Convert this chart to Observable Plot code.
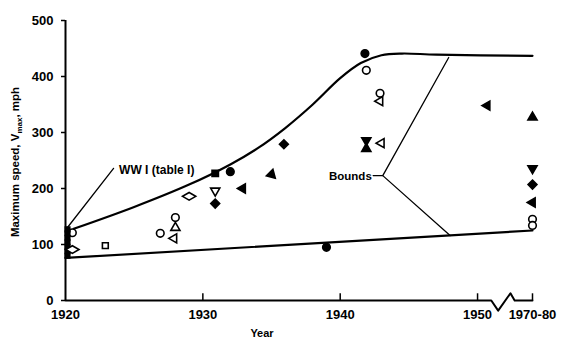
<!DOCTYPE html>
<html><head><meta charset="utf-8">
<script src="https://cdn.jsdelivr.net/npm/d3@7"></script>
<script src="https://cdn.jsdelivr.net/npm/@observablehq/plot@0.6"></script>
<style>body{margin:0;background:#fff} svg{display:block}</style>
</head><body><div id="chart"></div>
<script>
// ---- data ----
const xTickValues = [1920, 1930, 1940, 1950, 1975];
const xTickLabels = ["1920", "1930", "1940", "1950", "1970-80"];
const yTickValues = [0, 100, 200, 300, 400, 500];

// aircraft points: year, max speed (mph), marker code
const pointYears = [
  1920.15, 1920.15, 1920.15, 1920.15, 1920.15, 1920.15, 1920.15,
  1920.5, 1920.5, 1922.9, 1926.9, 1928, 1928, 1927.9, 1929,
  1930.9, 1932, 1930.9, 1930.9, 1932.9, 1935, 1935.9, 1939,
  1941.8, 1941.9, 1942.9, 1942.9, 1941.9, 1941.9, 1943, 1950.7,
  1975, 1975, 1975, 1975, 1975, 1975
];
const pointSpeeds = [
  80, 88, 96, 104, 112, 120, 127,
  121, 91, 98, 120, 148, 130, 111, 186,
  227, 230, 196, 173, 200, 225, 279, 95,
  441, 411, 370, 356, 286, 271, 281, 348,
  327, 236, 207, 175, 145, 134
];
const pointMarkers = [
  "■", "■", "■", "■", "■", "■", "■",
  "○", "◇", "□", "○", "○", "△", "◁", "◇",
  "■", "●", "▽", "◆", "◀", "◥", "◆", "●",
  "●", "○", "○", "◁", "▼", "▲", "◁", "◀",
  "▲", "▼", "◆", "◀", "○", "○"
];

// bounds
const upperYears  = [1920.6, 1925, 1929, 1932, 1934, 1936, 1938, 1940, 1941.5, 1943, 1944.5, 1947, 1975];
const upperSpeeds = [128, 167, 207, 243, 272, 308, 350, 397, 424, 438, 441, 439, 437];
const lowerYears  = [1920, 1975];
const lowerSpeeds = [76, 125];

// annotation leaders
const wwiLeaderYears = [1923.5, 1920.1];
const wwiLeaderSpeeds = [236, 129];
const boundsUpperLeaderYears = [1942.4, 1943.1, 1947.9];
const boundsUpperLeaderSpeeds = [223, 223, 434];
const boundsLowerLeaderYears = [1943.1, 1948.0];
const boundsLowerLeaderSpeeds = [223, 116];

// x-axis with break
const axisYears  = [1920, 1951, 1956.6, 1966.6, 1970, 1975];
const axisSpeeds = [0, 0, -18, 13, 0, 0];

// ---- build ----
// broken time axis: 1920–1951 linear, 1951–1970 compressed, 1970–80 group at the end
const breakTransform = v => v <= 1951 ? v
  : v < 1970 ? 1951 + (v - 1951) * (1.7 / 19)
  : 1952.7 + (v - 1970) * (1.3 / 5);

const zip = (xs, ys) => xs.map((x, i) => ({x, y: ys[i]}));
const points = pointYears.map((x, i) => ({x, y: pointSpeeds[i], m: pointMarkers[i]}));

const markerStyle = {
  "○": {symbol: "circle",   fill: false, rotate: 0,   r: 3.8},
  "●": {symbol: "circle",   fill: true,  rotate: 0,   r: 3.8},
  "□": {symbol: "square",   fill: false, rotate: 0,   r: 3.3},
  "■": {symbol: "square",   fill: true,  rotate: 0,   r: 3.0},
  "◇": {symbol: "diamond",  fill: false, rotate: 90,  r: 4.0},
  "◆": {symbol: "diamond2", fill: true,  rotate: 0,   r: 4.0},
  "△": {symbol: "triangle", fill: false, rotate: 0,   r: 3.4},
  "▲": {symbol: "triangle", fill: true,  rotate: 0,   r: 3.4},
  "▽": {symbol: "triangle", fill: false, rotate: 180, r: 3.4},
  "▼": {symbol: "triangle", fill: true,  rotate: 180, r: 3.4},
  "◁": {symbol: "triangle", fill: false, rotate: 270, r: 3.4},
  "◀": {symbol: "triangle", fill: true,  rotate: 270, r: 3.4},
  "◥": {symbol: "triangle", fill: true,  rotate: 135, r: 3.4}
};
const dotMarks = [];
for (const [code, st] of Object.entries(markerStyle)) {
  const data = points.filter(p => p.m === code);
  if (!data.length) continue;
  const isBar = code === "■";
  dotMarks.push(Plot.dot(data, {
    x: "x", y: "y",
    symbol: st.symbol,
    rotate: st.rotate,
    r: isBar ? (d => d.x < 1921 ? 2.5 : 3.6) : st.r,
    fill: st.fill ? "black" : "white",
    stroke: "black",
    strokeWidth: 1.6
  }));
}

const font = "'Liberation Sans', Arial, Helvetica, sans-serif";
const chart = Plot.plot({
  width: 561, height: 346,
  marginLeft: 65, marginRight: 29, marginTop: 20, marginBottom: 46,
  x: {domain: [1920, 1954], transform: breakTransform, axis: null},
  y: {domain: [0, 500], axis: null},
  r: {type: "identity"},
  style: {fontFamily: font, background: "white", color: "black"},
  marks: [
    Plot.axisY({ticks: yTickValues, tickSize: 4, tickPadding: 8, fontSize: 13, fontWeight: "bold", label: null, strokeWidth: 1.5}),
    Plot.ruleX([1920], {y1: 0, y2: 500, strokeWidth: 2}),
    Plot.line(zip(axisYears, axisSpeeds), {x: "x", y: "y", strokeWidth: 2}),
    Plot.ruleX(xTickValues.slice(1), {x: d => d, y1: 0, y2: 12, strokeWidth: 1.5}),
    Plot.text(xTickValues, {x: d => d, y: 0, dy: 14, text: (d, i) => xTickLabels[i], fontSize: 13, fontWeight: "bold"}),
    Plot.line(zip(upperYears, upperSpeeds), {x: "x", y: "y", curve: "catmull-rom", strokeWidth: 2.2}),
    Plot.line(zip(lowerYears, lowerSpeeds), {x: "x", y: "y", strokeWidth: 2.2}),
    Plot.line(zip(wwiLeaderYears, wwiLeaderSpeeds), {x: "x", y: "y", strokeWidth: 1.3}),
    Plot.line(zip(boundsUpperLeaderYears, boundsUpperLeaderSpeeds), {x: "x", y: "y", strokeWidth: 1.3}),
    Plot.line(zip(boundsLowerLeaderYears, boundsLowerLeaderSpeeds), {x: "x", y: "y", strokeWidth: 1.3}),
    Plot.text(["WW I (table I)"], {x: 1923.9, y: 232, text: d => d, textAnchor: "start", fontSize: 12, fontWeight: "bold"}),
    Plot.text(["Bounds"], {x: 1942.3, y: 221, text: d => d, textAnchor: "end", fontSize: 11.5, fontWeight: "bold"}),
    ...dotMarks
  ]
});
document.getElementById("chart").appendChild(chart);

// axis titles
const svg = d3.select(chart);
svg.append("text")
  .attr("x", 262).attr("y", 337)
  .attr("text-anchor", "middle")
  .attr("font-family", font).attr("font-size", 11).attr("font-weight", "bold")
  .text("Year");
const yl = svg.append("text")
  .attr("transform", "translate(19,162) rotate(-90)")
  .attr("text-anchor", "middle")
  .attr("font-family", font).attr("font-size", 11.5).attr("font-weight", "bold");
yl.append("tspan").text("Maximum speed, V");
yl.append("tspan").attr("font-size", 8).attr("dy", 3).text("max");
yl.append("tspan").attr("dy", -3).text(", mph");
</script>
</body></html>
